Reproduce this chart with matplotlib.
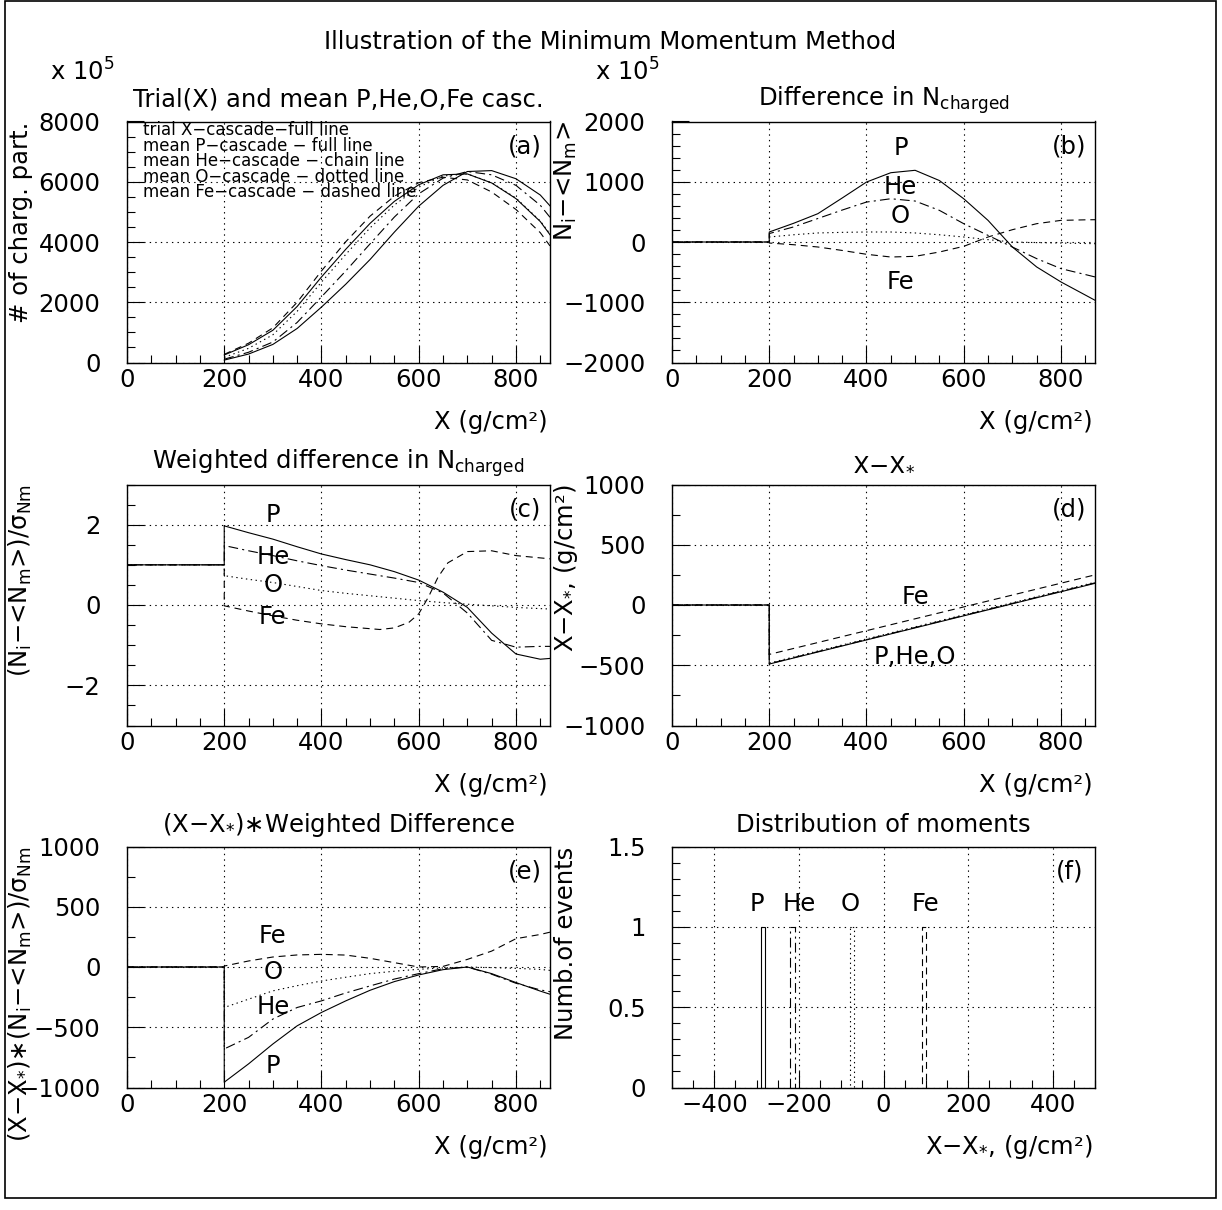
import matplotlib
matplotlib.use('Agg')
import matplotlib.pyplot as plt
from matplotlib.ticker import MultipleLocator, FuncFormatter
from matplotlib.patches import Rectangle

plt.rcParams['font.family'] = ['DejaVu Sans']
plt.rcParams['mathtext.fontset'] = 'dejavusans'
plt.rcParams['lines.scale_dashes'] = False

# ---------------- data ----------------
# common depth grid (g/cm2) for the cascade curves
xs = [200, 250, 300, 350, 400, 450, 500, 550, 600, 650, 700, 750, 800, 850, 870]

# (a) number of charged particles, x 10^5
a_trial = [250, 590, 1070, 1860, 2840, 3760, 4620, 5350, 5900, 6230, 6260, 5960, 5440, 4680, 4240]
a_P = [80, 280, 600, 1130, 1840, 2600, 3420, 4330, 5190, 5880, 6340, 6370, 6100, 5560, 5200]
a_He = [110, 340, 680, 1330, 2180, 3040, 3940, 4830, 5600, 6120, 6340, 6230, 5880, 5220, 4820]
a_O = [170, 470, 920, 1700, 2670, 3590, 4470, 5230, 5820, 6190, 6260, 5970, 5460, 4700, 4270]
a_Fe = [270, 640, 1150, 2000, 3040, 4010, 4860, 5520, 5970, 6150, 6060, 5660, 5080, 4310, 3870]

# (b) difference in N charged, x 10^5
b_P = [166, 310, 470, 730, 995, 1150, 1190, 1020, 718, 359, -83, -414, -663, -880, -967]
b_He = [140, 250, 390, 530, 663, 718, 680, 525, 304, 110, -83, -276, -442, -540, -580]
b_O = [83, 120, 150, 160, 166, 166, 150, 120, 83, 39, 0, -10, -17, -25, -28]
b_Fe = [-17, -45, -83, -140, -204, -249, -238, -166, -72, 83, 204, 304, 359, 368, 370]

# (c) weighted difference
c_left_x = [0, 0, 200]
c_left_y = [0, 1, 1]
c_P = [1.97, 1.80, 1.64, 1.45, 1.27, 1.13, 1.0, 0.83, 0.62, 0.32, -0.06, -0.70, -1.22, -1.35, -1.33]
c_He = [1.48, 1.35, 1.23, 1.10, 0.98, 0.87, 0.77, 0.67, 0.56, 0.30, -0.20, -0.88, -1.05, -1.03, -1.03]
c_O = [0.73, 0.64, 0.56, 0.46, 0.36, 0.29, 0.23, 0.17, 0.11, 0.06, 0.02, -0.02, -0.06, -0.09, -0.10]
c_Fe_x = [200, 250, 300, 350, 400, 450, 500, 520, 550, 580, 600, 620, 640, 660, 700, 750, 800, 870]
c_Fe = [-0.02, -0.15, -0.27, -0.38, -0.47, -0.54, -0.59, -0.61, -0.57, -0.43, -0.22, 0.2, 0.7, 1.05,
        1.33, 1.35, 1.23, 1.15]

# (d) X - X*
d_x = [200, 870]
d_P = [-490, 180]
d_He = [-487, 184]
d_O = [-482, 189]
d_Fe = [-410, 250]

# (e) (X - X*) * weighted difference
e_P = [-956, -804, -639, -488, -377, -281, -193, -121, -66, -22, 0, -55, -129, -200, -226]
e_He = [-680, -584, -432, -336, -281, -215, -157, -100, -55, -14, 0, -60, -135, -190, -205]
e_O = [-336, -267, -198, -155, -116, -85, -55, -35, -19, -8, 0, -5, -11, -20, -28]
e_Fe = [8, 50, 83, 100, 105, 99, 72, 36, 0, 5, 63, 132, 235, 270, 289]

# (f) distribution of moments
f_left = [-290, -220, -80, 90]
f_width = 10
f_count = [1, 1, 1, 1]
f_names = ['P', 'He', 'O', 'Fe']

# ---------------- styles ----------------
SOLID = '-'
CHAIN = (0, (7, 3, 1.5, 3))
DOTTED = (0, (1, 2.5))
DASHED = (0, (5, 3.5))
LW = 0.8
FS = 17.5

fig = plt.figure(figsize=(12.22, 12.10), dpi=100)
W, H = 1222.0, 1210.0


def make_ax(left, top, right, bottom):
    return fig.add_axes([left / W, 1 - bottom / H, (right - left) / W, (bottom - top) / H])


def fmt(v, pos):
    return ('%g' % v).replace('-', '\u2212')


def setup(ax, xlim, ylim, xmaj, xmin, ymaj, ymin):
    ax.set_xlim(xlim)
    ax.set_ylim(ylim)
    ax.xaxis.set_major_locator(MultipleLocator(xmaj))
    ax.xaxis.set_minor_locator(MultipleLocator(xmin))
    ax.yaxis.set_major_locator(MultipleLocator(ymaj))
    ax.yaxis.set_minor_locator(MultipleLocator(ymin))
    ax.xaxis.set_major_formatter(FuncFormatter(fmt))
    ax.yaxis.set_major_formatter(FuncFormatter(fmt))
    ax.tick_params(which='both', direction='in', top=False, right=False, width=0.8, labelsize=FS)
    ax.tick_params(which='major', length=12)
    ax.tick_params(which='minor', length=5.8)
    ax.tick_params(axis='y', pad=19)
    ax.tick_params(axis='x', pad=4)
    ax.grid(True, which='major', color='k', lw=0.8, linestyle=(0, (1, 3)))
    for s in ax.spines.values():
        s.set_linewidth(1.0)


def titles(ax, title, ylabel, xlabel='X (g/cm\u00b2)'):
    ax.text(0.5, 1.09, title, transform=ax.transAxes, ha='center', va='center', fontsize=FS)
    ax.text(-0.251, 1.0, ylabel, transform=ax.transAxes, rotation=90, ha='center', va='top', fontsize=FS)
    ax.text(0.995, -0.245, xlabel, transform=ax.transAxes, ha='right', va='center', fontsize=FS)


def tag(ax, s):
    ax.text(0.94, 0.895, s, transform=ax.transAxes, ha='center', va='center', fontsize=FS)


L0, L1, R0, R1 = 127, 550, 672, 1095
rows = [(121.5, 362.5), (484.5, 725.5), (846.5, 1087.5)]

# ---- (a)
ax = make_ax(L0, rows[0][0], L1, rows[0][1])
setup(ax, (0, 870), (0, 8000), 200, 50, 2000, 500)
ax.plot(xs, a_trial, color='k', lw=LW, ls=SOLID)
ax.plot(xs, a_P, color='k', lw=LW, ls=SOLID)
ax.plot(xs, a_He, color='k', lw=LW, ls=CHAIN)
ax.plot(xs, a_O, color='k', lw=LW, ls=DOTTED)
ax.plot(xs, a_Fe, color='k', lw=LW, ls=DASHED)
titles(ax, 'Trial(X) and mean P,He,O,Fe casc.', '# of charg. part.')
tag(ax, '(a)')
legend_lines = ['trial X\u2212cascade\u2212full line',
                'mean P\u2212cascade \u2212 full line',
                'mean He\u2212cascade \u2212 chain line',
                'mean O\u2212cascade \u2212 dotted line',
                'mean Fe\u2212cascade \u2212 dashed line']
for i, s in enumerate(legend_lines):
    ax.text(0.038, 0.963 - i * 0.064, s, transform=ax.transAxes, ha='left', va='center', fontsize=12)

# ---- (b)
ax = make_ax(R0, rows[0][0], R1, rows[0][1])
setup(ax, (0, 870), (-2000, 2000), 200, 50, 1000, 200)
for ys, ls in [(b_Fe, DASHED), (b_O, DOTTED), (b_He, CHAIN), (b_P, SOLID)]:
    ax.plot([0, 200] + xs, [0, 0] + ys, color='k', lw=LW, ls=ls)
titles(ax, 'Difference in N$_{\\mathrm{charged}}$',
       'N$_{\\mathrm{i}}$\u2212<N$_{\\mathrm{m}}$>')
tag(ax, '(b)')
for s, y in [('P', 1560), ('He', 910), ('O', 430), ('Fe', -670)]:
    ax.text(470, y, s, ha='center', va='center', fontsize=FS)

# ---- (c)
ax = make_ax(L0, rows[1][0], L1, rows[1][1])
setup(ax, (0, 870), (-3, 3), 200, 50, 2, 0.5)
ax.plot(c_left_x + c_Fe_x, c_left_y + c_Fe, color='k', lw=LW, ls=DASHED)
for ys, ls in [(c_O, DOTTED), (c_He, CHAIN), (c_P, SOLID)]:
    ax.plot(c_left_x + xs, c_left_y + ys, color='k', lw=LW, ls=ls)
titles(ax, 'Weighted difference in N$_{\\mathrm{charged}}$',
       '(N$_{\\mathrm{i}}$\u2212<N$_{\\mathrm{m}}$>)/\u03c3$_{\\mathrm{Nm}}$')
tag(ax, '(c)')
for s, y in [('P', 2.25), ('He', 1.2), ('O', 0.5), ('Fe', -0.3)]:
    ax.text(300, y, s, ha='center', va='center', fontsize=FS)

# ---- (d)
ax = make_ax(R0, rows[1][0], R1, rows[1][1])
setup(ax, (0, 870), (-1000, 1000), 200, 50, 500, 250)
for ys, ls in [(d_Fe, DASHED), (d_O, DOTTED), (d_He, CHAIN), (d_P, SOLID)]:
    ax.plot([0, 200] + d_x, [0, 0] + ys, color='k', lw=LW, ls=ls)
titles(ax, 'X\u2212X$_{*}$', 'X\u2212X$_{*}$, (g/cm\u00b2)')
tag(ax, '(d)')
ax.text(500, 65, 'Fe', ha='center', va='center', fontsize=FS)
ax.text(500, -435, 'P,He,O', ha='center', va='center', fontsize=FS)

# ---- (e)
ax = make_ax(L0, rows[2][0], L1, rows[2][1])
setup(ax, (0, 870), (-1000, 1000), 200, 50, 500, 250)
for ys, ls in [(e_Fe, DASHED), (e_O, DOTTED), (e_He, CHAIN), (e_P, SOLID)]:
    ax.plot([0, 200] + xs, [0, 0] + ys, color='k', lw=LW, ls=ls)
titles(ax, '(X\u2212X$_{*}$)\u2217Weighted Difference',
       '(X\u2212X$_{*}$)\u2217(N$_{\\mathrm{i}}$\u2212<N$_{\\mathrm{m}}$>)/\u03c3$_{\\mathrm{Nm}}$')
tag(ax, '(e)')
for s, y in [('Fe', 256), ('O', -40), ('He', -330), ('P', -825)]:
    ax.text(300, y, s, ha='center', va='center', fontsize=FS)

# ---- (f)
ax = make_ax(R0, rows[2][0], R1, rows[2][1])
setup(ax, (-500, 500), (0, 1.5), 200, 50, 0.5, 0.1)
for x0, n, ls in zip(f_left, f_count, [SOLID, CHAIN, DOTTED, DASHED]):
    ax.bar(x0, n, width=f_width, align='edge', fill=False, edgecolor='k', lw=LW, ls=ls)
titles(ax, 'Distribution of moments', 'Numb.of events', 'X\u2212X$_{*}$, (g/cm\u00b2)')
tag(ax, '(f)')
for s, x in zip(f_names, [-300, -198, -79, 100]):
    ax.text(x, 1.145, s, ha='center', va='center', fontsize=FS)

# figure texts and frame
fig.text(610 / W, 1 - 42 / H, 'Illustration of the Minimum Momentum Method', ha='center', va='center', fontsize=FS)
fig.text(50 / W, 1 - 72 / H, 'x 10$^{\\mathrm{5}}$', ha='left', va='center', fontsize=FS)
fig.text(595 / W, 1 - 72 / H, 'x 10$^{\\mathrm{5}}$', ha='left', va='center', fontsize=FS)
fig.add_artist(Rectangle((5 / W, 1 - 1198 / H), 1211 / W, 1197 / H, transform=fig.transFigure,
                         fill=False, lw=1.2, ec='k'))

fig.savefig('out.png', dpi=100)
